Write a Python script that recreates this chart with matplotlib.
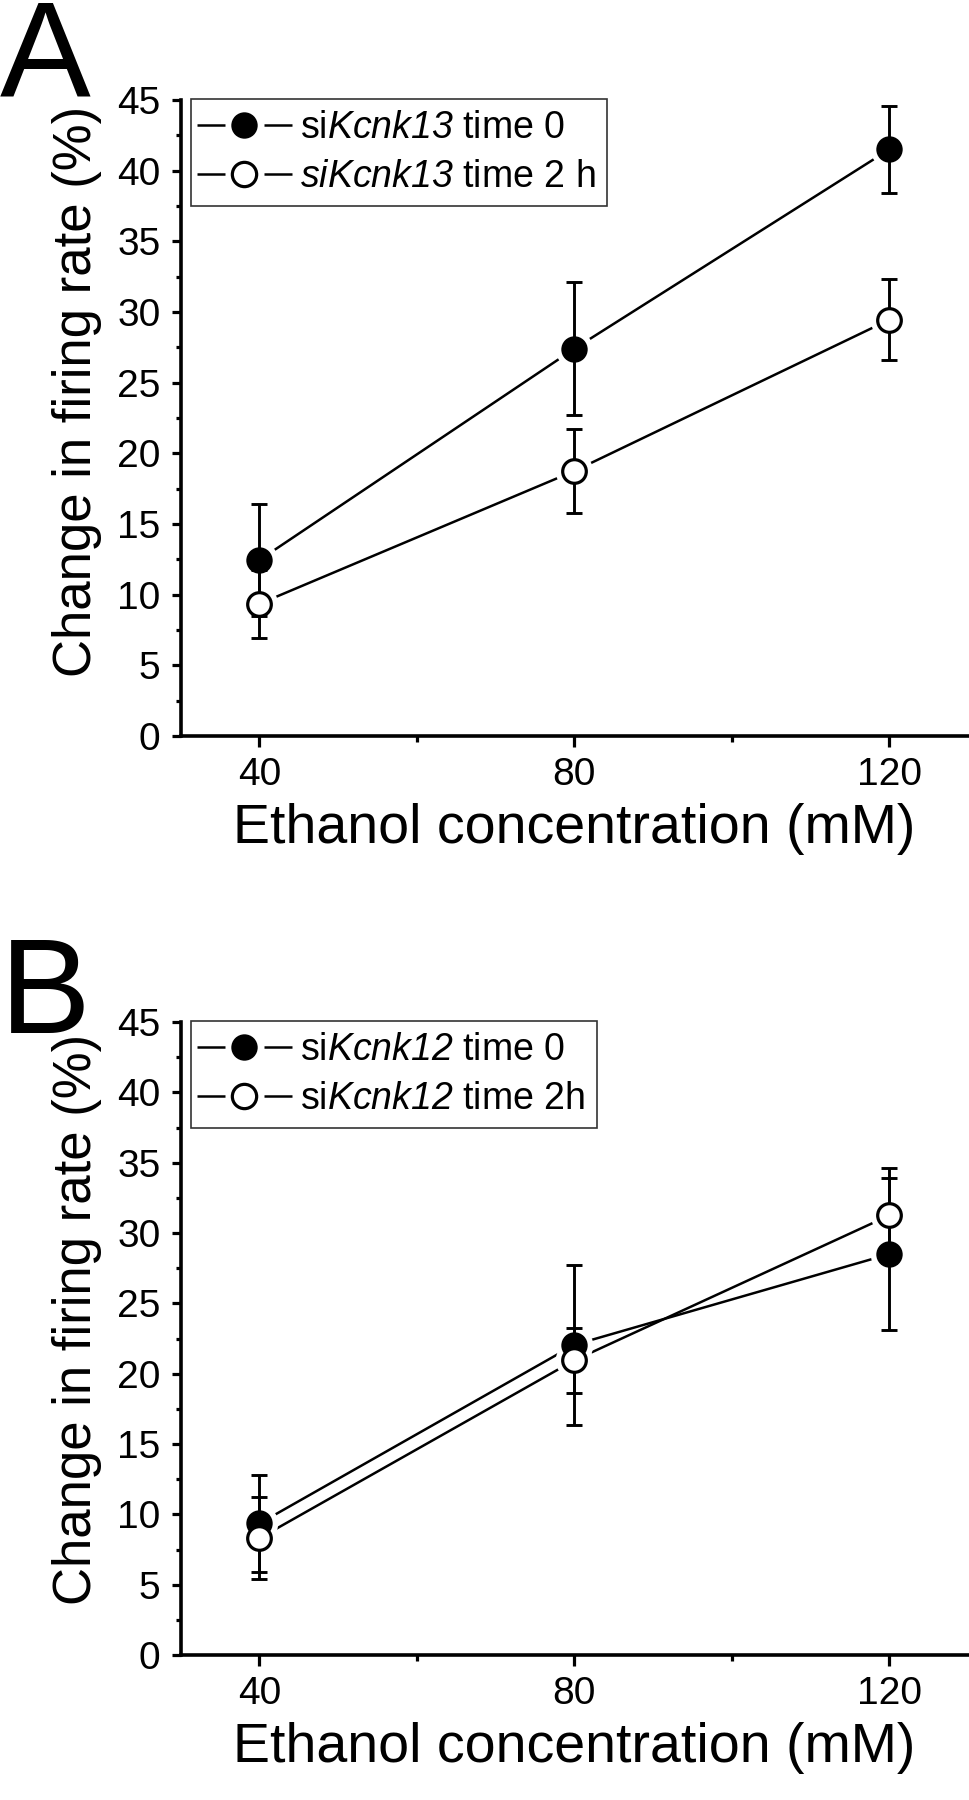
import matplotlib
matplotlib.use("Agg")
import matplotlib.pyplot as plt
from matplotlib.lines import Line2D
from matplotlib.legend_handler import HandlerBase
from matplotlib.ticker import MultipleLocator

plt.rcParams['font.family'] = ['Liberation Sans', 'DejaVu Sans']
plt.rcParams['mathtext.fontset'] = 'custom'
plt.rcParams['mathtext.rm'] = 'Liberation Sans:italic'
plt.rcParams['mathtext.it'] = 'Liberation Sans:italic'
plt.rcParams['mathtext.default'] = 'it'

# ---- data ----
conc = [40, 80, 120]

a_t0 = [12.45, 27.4, 41.5]
a_t0_err = [3.95, 4.7, 3.1]
a_t2 = [9.35, 18.75, 29.45]
a_t2_err = [2.4, 3.0, 2.85]

b_t0 = [9.35, 22.05, 28.5]
b_t0_err = [3.45, 5.7, 5.4]
b_t2 = [8.3, 20.95, 31.25]
b_t2_err = [2.9, 2.3, 3.4]

labels_a = [r"si$Kcnk13$ time 0", r"$siKcnk13$ time 2 h"]
labels_b = [r"si$Kcnk12$ time 0", r"si$Kcnk12$ time 2h"]

xticks = [40, 80, 120]
yticks = list(range(0, 50, 5))

W, H = 970, 1800
fig = plt.figure(figsize=(W / 100, H / 100), dpi=100)

def fx(px):
    return px / W

def fy(py):
    return 1 - py / H

LW = 1.8
MS = 17.5


class GapLineHandler(HandlerBase):
    """line segment - marker - line segment, with gaps (Origin style)."""
    def __init__(self, mfc, mew, **kw):
        super().__init__(**kw)
        self.mfc = mfc
        self.mew = mew

    def create_artists(self, legend, orig_handle, xdescent, ydescent,
                       width, height, fontsize, trans):
        y = height / 2 - ydescent
        x0 = -xdescent - 4
        x1 = x0 + width + 4
        w = x1 - x0
        segw = 0.30 * w
        l1 = Line2D([x0, x0 + segw], [y, y], color='black', lw=LW,
                    solid_capstyle='butt')
        l2 = Line2D([x1 - segw, x1], [y, y], color='black', lw=LW,
                    solid_capstyle='butt')
        m = Line2D([x0 + w / 2], [y], ls='none', marker='o', ms=MS,
                   mfc=self.mfc, mec='black', mew=self.mew)
        for a in (l1, l2, m):
            a.set_transform(trans)
        return [l1, l2, m]


def draw_panel(ax, t0, t0e, t2, t2e, labels, leg_top_px, ylab_y):
    # connecting lines
    ax.plot(conc, t0, color='black', lw=LW, zorder=1)
    ax.plot(conc, t2, color='black', lw=LW, zorder=1)
    # white masks create gaps between lines and markers
    for ys in (t0, t2):
        ax.plot(conc, ys, ls='none', marker='o', ms=27, mfc='white',
                mec='none', zorder=2)
    # error bars
    for ys, es in ((t0, t0e), (t2, t2e)):
        ax.errorbar(conc, ys, yerr=es, fmt='none', ecolor='black',
                    elinewidth=2.1, capsize=5.5, capthick=2.1, zorder=3)
    # markers
    h0, = ax.plot(conc, t0, ls='none', marker='o', ms=MS, mfc='black',
                  mec='black', mew=1.5, zorder=5)
    h2, = ax.plot(conc, t2, ls='none', marker='o', ms=MS - 0.5, mfc='white',
                  mec='black', mew=2.3, zorder=5)

    ax.set_xlim(30, 130)
    ax.set_ylim(0, 45)
    ax.set_xticks(xticks)
    ax.set_yticks(yticks)
    ax.xaxis.set_minor_locator(MultipleLocator(20))
    ax.yaxis.set_minor_locator(MultipleLocator(2.5))
    for s in ('top', 'right'):
        ax.spines[s].set_visible(False)
    for s in ('left', 'bottom'):
        ax.spines[s].set_linewidth(2.6)
    ax.tick_params(axis='both', which='major', labelsize=28, width=2.3)
    ax.tick_params(axis='x', which='major', length=8, pad=7)
    ax.tick_params(axis='y', which='major', length=6.5, pad=8)
    ax.tick_params(axis='x', which='minor', length=4, width=2.3)
    ax.tick_params(axis='y', which='minor', length=3.5, width=2.3)
    ax.set_xlabel("Ethanol concentration (mM)", fontsize=40, labelpad=7)
    ax.set_ylabel("Change in firing rate (%)", fontsize=38)
    ax.yaxis.set_label_coords((102 - 180.7) / 787.3, ylab_y)

    leg = fig.legend([h0, h2], labels,
                     handler_map={h0: GapLineHandler('black', 1.5),
                                  h2: GapLineHandler('white', 2.3)},
                     loc='upper left',
                     bbox_to_anchor=(fx(191), fy(leg_top_px)),
                     bbox_transform=fig.transFigure,
                     fontsize=27, frameon=True, fancybox=False,
                     edgecolor='#333333', framealpha=1,
                     borderaxespad=0, borderpad=0.3, labelspacing=0.33,
                     handlelength=2.4, handletextpad=0.22)
    leg.get_frame().set_linewidth(1.2)
    return leg


ax_a = fig.add_axes([fx(180.7), fy(736), fx(968) - fx(180.7), fy(100) - fy(736)])
draw_panel(ax_a, a_t0, a_t0_err, a_t2, a_t2_err, labels_a, 99, 0.542)

ax_b = fig.add_axes([fx(180.7), fy(1655), fx(968) - fx(180.7), fy(1022) - fy(1655)])
draw_panel(ax_b, b_t0, b_t0_err, b_t2, b_t2_err, labels_b, 1021, 0.53)

fig.text(0.0, fy(-2), "A", fontsize=98, ha='left', va='top')
fig.text(0.0, fy(935), "B", fontsize=98, ha='left', va='top')

fig.savefig("out.png", dpi=100)
